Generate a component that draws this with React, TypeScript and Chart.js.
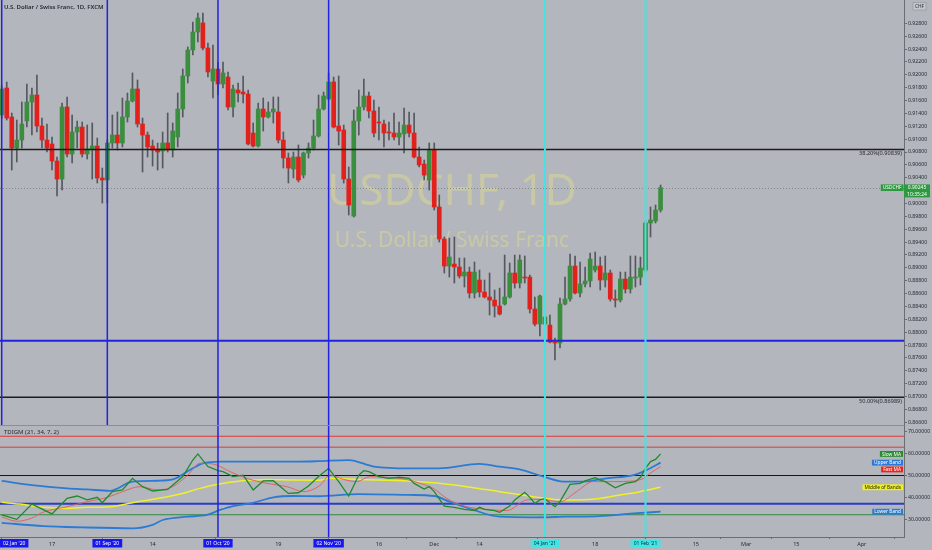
import { useEffect, useRef } from 'react';
import { Chart, registerables } from 'chart.js';

Chart.register(...registerables);

// ---------- price data (USDCHF daily, index 0 = first visible bar) ----------
const OPEN = [
  0.91375, 0.91794, 0.91344, 0.90862, 0.90986, 0.91282, 0.91577, 0.91686, 0.91204, 0.90986,
  0.90924, 0.90660, 0.90380, 0.91499, 0.90769, 0.91111, 0.91188, 0.90769, 0.90831, 0.90893,
  0.90396, 0.90365, 0.90940, 0.91064, 0.90940, 0.91344, 0.91592, 0.91779, 0.91235, 0.91064,
  0.90893, 0.90847, 0.90815, 0.90940, 0.90831, 0.91033, 0.91468, 0.91981, 0.92385, 0.92665,
  0.92805, 0.92416, 0.91903, 0.92090, 0.91857, 0.91965, 0.91499, 0.91763, 0.91732, 0.91701,
  0.91095, 0.90893, 0.91468, 0.91344, 0.91422, 0.91422, 0.90986, 0.90707, 0.90536, 0.90722,
  0.90442, 0.90784, 0.90862, 0.91049, 0.91468, 0.91624, 0.91888, 0.91204, 0.91142, 0.90380,
  0.89805, 0.91282, 0.91499, 0.91670, 0.91437, 0.91266, 0.91235, 0.91111, 0.91095, 0.91033,
  0.91080, 0.91219, 0.91095, 0.90722, 0.90613, 0.90365, 0.90831, 0.89945, 0.89448, 0.89028,
  0.89059, 0.89013, 0.88873, 0.88935, 0.88609, 0.88811, 0.88624, 0.88547, 0.88500, 0.88407,
  0.88438, 0.88547, 0.88920, 0.88764, 0.88857, 0.88857, 0.88360, 0.88127, 0.88127, 0.88111,
  0.87847, 0.87832, 0.88438, 0.88516, 0.89028, 0.88609, 0.88749, 0.88795, 0.88966, 0.89028,
  0.88811, 0.88920, 0.88516, 0.88500, 0.88826, 0.88671, 0.88842, 0.88857, 0.88966, 0.89697,
  0.89728, 0.89899,
];
const HIGH = [
  0.91826, 0.91888, 0.91406, 0.91297, 0.91577, 0.91857, 0.91794, 0.91996, 0.91328, 0.91235,
  0.91033, 0.90722, 0.91561, 0.91655, 0.91375, 0.91282, 0.91266, 0.91219, 0.91251, 0.91017,
  0.90551, 0.90986, 0.91375, 0.91422, 0.91639, 0.91717, 0.92028, 0.91919, 0.91328, 0.91111,
  0.90986, 0.90940, 0.91111, 0.91406, 0.91251, 0.91717, 0.92090, 0.92432, 0.92820, 0.92960,
  0.92960, 0.92494, 0.92463, 0.92199, 0.92199, 0.92043, 0.91841, 0.91872, 0.91981, 0.91763,
  0.91251, 0.91561, 0.91639, 0.91577, 0.91655, 0.91655, 0.91111, 0.90784, 0.90800, 0.90909,
  0.90800, 0.90940, 0.91297, 0.91686, 0.91732, 0.92028, 0.91965, 0.91981, 0.91219, 0.90567,
  0.91453, 0.91763, 0.91934, 0.91732, 0.91608, 0.91499, 0.91297, 0.91266, 0.91406, 0.91266,
  0.91484, 0.91422, 0.91406, 0.90878, 0.90676, 0.90940, 0.90940, 0.90132, 0.89479, 0.89463,
  0.89479, 0.89153, 0.89153, 0.89013, 0.89091, 0.88966, 0.88811, 0.88920, 0.88655, 0.88686,
  0.89199, 0.89075, 0.89199, 0.89199, 0.89184, 0.88888, 0.88547, 0.88578, 0.88267, 0.88267,
  0.87909, 0.88531, 0.88857, 0.89215, 0.89184, 0.89091, 0.89013, 0.89230, 0.89246, 0.89168,
  0.89184, 0.88966, 0.88655, 0.88935, 0.88935, 0.89184, 0.89184, 0.89168, 0.89728, 0.89945,
  0.89976, 0.90287,
];
const LOW = [
  0.91328, 0.91297, 0.90520, 0.90645, 0.90862, 0.91188, 0.91064, 0.91111, 0.90862, 0.90800,
  0.90520, 0.90116, 0.90209, 0.90722, 0.90629, 0.90862, 0.90722, 0.90691, 0.90380, 0.90318,
  0.90007, 0.90007, 0.90862, 0.90831, 0.90878, 0.91266, 0.91577, 0.91188, 0.90489, 0.90722,
  0.90582, 0.90520, 0.90551, 0.90800, 0.90722, 0.90878, 0.91344, 0.91872, 0.92307, 0.92509,
  0.92385, 0.91965, 0.91639, 0.91686, 0.91794, 0.91453, 0.91344, 0.91577, 0.91561, 0.90909,
  0.90878, 0.90878, 0.91126, 0.91328, 0.91251, 0.90940, 0.90551, 0.90318, 0.90396, 0.90334,
  0.90396, 0.90707, 0.90831, 0.91033, 0.91453, 0.91608, 0.91173, 0.90909, 0.90318, 0.89821,
  0.89790, 0.91064, 0.91453, 0.91328, 0.91033, 0.90986, 0.90878, 0.90986, 0.90986, 0.90909,
  0.90784, 0.91033, 0.90707, 0.90567, 0.90365, 0.90209, 0.89899, 0.89401, 0.88920, 0.88857,
  0.88764, 0.88842, 0.88702, 0.88531, 0.88531, 0.88547, 0.88531, 0.88267, 0.88236, 0.88267,
  0.88422, 0.88531, 0.88686, 0.88686, 0.88764, 0.88298, 0.88096, 0.87941, 0.88096, 0.87832,
  0.87568, 0.87754, 0.88422, 0.88484, 0.88593, 0.88547, 0.88702, 0.88702, 0.88935, 0.88655,
  0.88702, 0.88484, 0.88391, 0.88469, 0.88609, 0.88609, 0.88702, 0.88733, 0.88935, 0.89479,
  0.89697, 0.89868,
];
const CLOSE = [
  0.91779, 0.91328, 0.90862, 0.90986, 0.91235, 0.91577, 0.91686, 0.91204, 0.90986, 0.90862,
  0.90660, 0.90380, 0.91499, 0.90769, 0.91111, 0.91188, 0.90769, 0.90847, 0.90893, 0.90396,
  0.90365, 0.90940, 0.91064, 0.90940, 0.91344, 0.91592, 0.91779, 0.91235, 0.91064, 0.90878,
  0.90831, 0.90800, 0.90940, 0.90831, 0.91126, 0.91468, 0.91981, 0.92385, 0.92665, 0.92882,
  0.92416, 0.92043, 0.92090, 0.91857, 0.92028, 0.91499, 0.91779, 0.91717, 0.91701, 0.90924,
  0.90893, 0.91468, 0.91344, 0.91422, 0.91468, 0.90986, 0.90707, 0.90551, 0.90722, 0.90365,
  0.90784, 0.90862, 0.91049, 0.91468, 0.91670, 0.91888, 0.91188, 0.91126, 0.90380, 0.89976,
  0.91282, 0.91499, 0.91670, 0.91437, 0.91095, 0.91251, 0.91095, 0.91095, 0.91033, 0.91095,
  0.91219, 0.91095, 0.90722, 0.90598, 0.90442, 0.90831, 0.89945, 0.89448, 0.89028, 0.89168,
  0.89013, 0.88873, 0.88935, 0.88609, 0.88935, 0.88624, 0.88547, 0.88500, 0.88407, 0.88282,
  0.88547, 0.88920, 0.88764, 0.89122, 0.88842, 0.88360, 0.88127, 0.88562, 0.88236, 0.87847,
  0.87832, 0.88438, 0.88516, 0.89028, 0.88609, 0.88749, 0.88795, 0.89137, 0.89028, 0.88811,
  0.88920, 0.88516, 0.88500, 0.88826, 0.88671, 0.88857, 0.88857, 0.88997, 0.89697, 0.89743,
  0.89899, 0.90245,
];

// ---------- TDIGM indicator (bar index, value) ----------
const GREEN_X = [0, 3, 6, 10, 13, 15, 17, 19, 20, 22, 24, 26, 28, 30, 33, 36, 38, 39, 41, 43, 44, 46, 48, 50, 52, 54, 57, 59, 61, 63, 65, 67, 69, 71, 72, 73, 75, 77, 79, 81, 82, 84, 85, 86, 88, 90, 92, 94, 95, 96, 98, 99, 101, 102, 104, 105, 106, 107, 108, 109, 110, 111, 113, 115, 116, 118, 119, 120, 122, 124, 126, 127, 128, 129, 130, 131];
const GREEN_V = [31.9, 29.9, 36.9, 32.4, 39.5, 40.6, 38.8, 40.0, 37.5, 42.6, 43.4, 48.7, 44.9, 42.9, 43.6, 49.5, 57.1, 59.9, 54.1, 52.2, 51.8, 49.5, 50.2, 43.4, 47.5, 47.6, 41.8, 42.1, 45.2, 49.5, 53.3, 47.2, 40.6, 50.2, 52.2, 51.8, 49.5, 48.7, 49.2, 48.7, 46.4, 43.8, 44.9, 42.6, 36.0, 35.4, 34.5, 33.9, 35.4, 34.5, 33.9, 33.1, 36.0, 38.8, 42.3, 40.0, 37.2, 38.8, 39.4, 37.5, 35.7, 38.0, 45.9, 46.4, 47.5, 49.0, 47.9, 47.2, 44.4, 46.4, 47.2, 49.2, 53.3, 56.4, 57.4, 59.9];
const RED_X = [0, 3, 6, 8, 13, 17, 21, 24, 27.5, 31, 34, 37, 39.4, 42, 45.4, 48.7, 52.7, 56.7, 60, 63.3, 65.3, 68, 70.6, 73.2, 76.5, 80.5, 83.2, 85.8, 88.5, 92.4, 96.4, 100.4, 104.4, 107, 111, 114.3, 117.6, 121.6, 125.6, 127.6, 128.9, 131];
const RED_V = [31.0, 29.0, 30.5, 33.0, 35.7, 38.0, 40.0, 42.6, 44.9, 43.4, 44.9, 50.2, 55.6, 55.3, 51.8, 48.7, 46.4, 44.9, 42.6, 45.5, 50.2, 48.2, 47.2, 49.5, 49.2, 48.2, 46.4, 44.1, 39.5, 35.7, 34.5, 33.9, 38.8, 39.1, 38.0, 42.6, 47.2, 47.2, 47.5, 48.7, 51.0, 54.1];
const UPPER_X = [0, 6, 13, 17, 21.5, 26, 31, 34, 37.4, 40, 43.4, 50, 59, 63, 69, 74, 81, 87, 95, 99, 103, 107.7, 111.7, 115.6, 120.3, 125.6, 128.2, 131];
const UPPER_V = [47.5, 45.6, 44.1, 43.6, 43.0, 47.2, 47.6, 48.2, 52.5, 55.6, 56.4, 56.4, 56.4, 56.6, 57.1, 54.1, 53.3, 53.3, 55.3, 54.1, 52.8, 49.5, 47.2, 47.2, 48.7, 50.2, 52.5, 55.9];
const MID_X = [0, 3.6, 8.3, 13, 17, 21.5, 26, 31, 35.5, 39.4, 42.7, 47.4, 52.7, 58, 63, 65.3, 71, 81, 87, 92.4, 99, 105.7, 111.7, 118.9, 122.9, 126.9, 131];
const MID_V = [37.7, 36.9, 35.4, 34.9, 35.4, 35.7, 37.5, 39.5, 41.5, 44.1, 45.9, 47.5, 48.2, 47.9, 47.8, 48.7, 48.2, 47.5, 46.4, 44.9, 42.6, 40.3, 38.8, 39.5, 41.1, 42.6, 44.6];
const LOWER_X = [0, 8.3, 16.2, 26, 30, 32, 36.8, 40.8, 43.4, 46, 50, 54, 58, 63, 71, 81, 86, 89, 93.8, 99, 105.7, 112.3, 118.9, 125.6, 131];
const LOWER_V = [28.3, 26.8, 26.2, 25.8, 27.4, 29.6, 31.1, 31.9, 34.2, 36.0, 37.5, 40.0, 40.6, 40.5, 41.5, 41.1, 40.6, 38.0, 34.2, 31.1, 30.8, 31.1, 31.4, 32.6, 33.4];
const IND_LEVELS = [68, 63, 50, 37, 32];

// ---------- axes ----------
const X_MIN = -0.34;
const X_MAX = 179.4;
const PRICE_MIN = 0.86558;
const PRICE_MAX = 0.93162;
const IND_MIN = 21.8;
const IND_MAX = 73.17;
const PRICE_TICKS = [0.866, 0.868, 0.87, 0.872, 0.874, 0.876, 0.878, 0.88, 0.882, 0.884, 0.886, 0.888, 0.89, 0.892, 0.894, 0.896, 0.898, 0.9, 0.904, 0.906, 0.908, 0.91, 0.912, 0.914, 0.916, 0.918, 0.92, 0.922, 0.924, 0.926, 0.928];
const IND_TICKS = [30, 40, 50, 60, 70];
const X_TICK_POS = [10, 30, 55, 75, 86, 95, 118, 138, 148, 158, 171];
const X_TICK_LABELS = ['17', '14', '19', '16', 'Dec', '14', '18', '15', 'Mar', '15', 'Apr'];

// ---------- drawings ----------
const VLINE_POS = [0, 21, 43, 65, 108, 128];
const VLINE_LABELS = ["02 Jan '20", "01 Sep '20", "01 Oct '20", "02 Nov '20", "04 Jan '21", "01 Feb '21"];
const FIB_LEVELS = [0.90839, 0.86989];
const FIB_LABELS = ['38.20%(0.90839)', '50.00%(0.86989)'];
const SUPPORT_LEVEL = 0.87866;
const LAST_PRICE = 0.90245;
const LAST_PRICE_TEXT = '0.90245';
const LAST_TIME = '10:35:24';
const SYMBOL = 'USDCHF';
const TITLE = 'U.S. Dollar / Swiss Franc, 1D, FXCM';
const WATERMARK_TITLE = 'USDCHF, 1D';
const WATERMARK_SUB = 'U.S. Dollar / Swiss Franc';
const IND_TITLE = 'TDIGM (21, 34, 7, 2)';
const CURRENCY = 'CHF';
const SERIES_NAMES = ['Slow MA', 'Upper Band', 'Fast MA', 'Middle of Bands', 'Lower Band'];

const FONT = '"Noto Sans", "DejaVu Sans", sans-serif';
const BG = 'rgb(179,182,189)';
const UP = '#3a8e3e';
const DOWN = '#e3211c';
const WICK = '#55585f';
const AXIS = '#6a6d74';
const TXT = '#262a33';
const BLUE_V = '#2222e2';
const CYAN_V = '#44e4e4';
const BAND = '#2b7bd4';
const GREEN_L = '#1f8a2c';
const RED_L = '#e35a5a';
const YELLOW_L = '#f0f02a';

export default function App() {
  const ref = useRef<HTMLCanvasElement | null>(null);

  useEffect(() => {
    document.body.style.margin = '0';
    const canvas = ref.current;
    if (!canvas) return;

    const idx = OPEN.map((_, i) => i);
    const upFlags = idx.map((i) => CLOSE[i] >= OPEN[i]);

    const tag = (ctx: any, text: string, right: number, cy: number, h: number, bg: string, fg: string, size: number, minW = 0) => {
      ctx.font = `${size}px ${FONT}`;
      const w = Math.max(ctx.measureText(text).width + 4, minW);
      ctx.fillStyle = bg;
      ctx.fillRect(right - w, cy - h / 2, w, h);
      ctx.fillStyle = fg;
      ctx.textAlign = 'center';
      ctx.textBaseline = 'middle';
      ctx.fillText(text, right - w / 2, cy + 0.3);
      return w;
    };

    const hline = (ctx: any, y: number, x0: number, x1: number, color: string, width: number) => {
      ctx.strokeStyle = color;
      ctx.lineWidth = width;
      ctx.beginPath();
      ctx.moveTo(x0, y);
      ctx.lineTo(x1, y);
      ctx.stroke();
    };

    const overlay = {
      id: 'overlay',
      beforeDraw(chart: any) {
        const { ctx, width, height } = chart;
        ctx.save();
        ctx.fillStyle = BG;
        ctx.fillRect(0, 0, width, height);
        ctx.restore();
      },
      beforeDatasetsDraw(chart: any) {
        const { ctx, chartArea: a } = chart;
        const ys = chart.scales.y;
        const y2 = chart.scales.y2;
        ctx.save();
        // watermark
        const cx = (a.left + a.right) / 2;
        const cy = (ys.top + ys.bottom) / 2;
        ctx.fillStyle = 'rgba(240,232,120,0.36)';
        ctx.textAlign = 'center';
        ctx.textBaseline = 'middle';
        ctx.font = `44px ${FONT}`;
        ctx.fillText(WATERMARK_TITLE, cx, cy - 20);
        ctx.font = `21px ${FONT}`;
        ctx.fillText(WATERMARK_SUB, cx, cy + 29);
        // last price dotted line
        ctx.setLineDash([1, 2]);
        hline(ctx, Math.round(ys.getPixelForValue(LAST_PRICE)) + 0.5, a.left, a.right, 'rgba(110,112,118,0.7)', 1);
        ctx.setLineDash([]);
        // indicator levels
        const lc = ['#e03a3a', '#e03a3a', '#161616', '#2a3cc4', '#2f8a3e'];
        const lw = [1, 1, 1, 2, 1];
        IND_LEVELS.forEach((v, i) => {
          hline(ctx, y2.getPixelForValue(v), a.left, a.right, lc[i], lw[i]);
        });
        ctx.restore();
      },
      afterDatasetsDraw(chart: any) {
        const { ctx, chartArea: a } = chart;
        const ys = chart.scales.y;
        const xs = chart.scales.x;
        ctx.save();
        FIB_LEVELS.forEach((v) => hline(ctx, ys.getPixelForValue(v), a.left, a.right, '#1c1c1c', 1.3));
        hline(ctx, ys.getPixelForValue(SUPPORT_LEVEL), a.left, a.right, BLUE_V, 2);
        VLINE_POS.forEach((p, i) => {
          const px = xs.getPixelForValue(p);
          ctx.strokeStyle = i < 4 ? BLUE_V : CYAN_V;
          ctx.lineWidth = i < 4 ? 1.5 : 2;
          ctx.beginPath();
          ctx.moveTo(px, a.top);
          ctx.lineTo(px, i < 2 ? ys.bottom : a.bottom);
          ctx.stroke();
        });
        ctx.restore();
      },
      afterDraw(chart: any) {
        const { ctx, chartArea: a } = chart;
        const ys = chart.scales.y;
        const y2 = chart.scales.y2;
        const xs = chart.scales.x;
        ctx.save();
        // pane separator
        hline(ctx, Math.round(ys.bottom) + 0.5, 0, a.right, '#8b8e95', 1);
        // titles
        ctx.fillStyle = TXT;
        ctx.textAlign = 'left';
        ctx.textBaseline = 'middle';
        ctx.font = `600 6px ${FONT}`;
        ctx.fillText(TITLE, 4, 7.5);
        ctx.font = `6px ${FONT}`;
        ctx.fillText(IND_TITLE, 4, y2.top + 7.5);
        // fib labels
        ctx.font = `5.6px ${FONT}`;
        ctx.textAlign = 'right';
        ctx.textBaseline = 'top';
        FIB_LEVELS.forEach((v, i) => {
          ctx.fillStyle = TXT;
          ctx.fillText(FIB_LABELS[i], a.right - 2, ys.getPixelForValue(v) + 1.6);
        });
        // last price labels
        const pp = ys.getPixelForValue(LAST_PRICE);
        const green = '#2e9a40';
        ctx.fillStyle = green;
        ctx.fillRect(a.right, pp - 3.3, 26, 13);
        ctx.fillStyle = '#ffffff';
        ctx.font = `5px ${FONT}`;
        ctx.textAlign = 'center';
        ctx.textBaseline = 'middle';
        ctx.fillText(LAST_PRICE_TEXT, a.right + 13, pp + 0.1);
        ctx.fillText(LAST_TIME, a.right + 13, pp + 6.5);
        tag(ctx, SYMBOL, a.right - 0.5, pp, 6.6, green, '#ffffff', 4.8, 22);
        // indicator series labels
        const lasts = [GREEN_V, UPPER_V, RED_V, MID_V, LOWER_V].map((arr) => y2.getPixelForValue(arr[arr.length - 1]));
        const bgs = ['#2b8a33', BAND, '#e8261f', '#f3f312', BAND];
        const fgs = ['#ffffff', '#ffffff', '#ffffff', '#222222', '#ffffff'];
        const order = [0, 1, 2, 3, 4].sort((p, q) => lasts[p] - lasts[q]);
        let prev = -100;
        order.forEach((k) => {
          let yy = lasts[k];
          if (yy < prev + 6.8) yy = prev + 6.8;
          prev = yy;
          tag(ctx, SERIES_NAMES[k], a.right - 1, yy, 5.8, bgs[k], fgs[k], 4.8);
        });
        // vertical line date boxes
        VLINE_POS.forEach((p, i) => {
          ctx.font = `5px ${FONT}`;
          const w = ctx.measureText(VLINE_LABELS[i]).width + 6;
          let left = xs.getPixelForValue(p) - w / 2;
          if (left < 0) left = 0;
          ctx.fillStyle = i < 4 ? '#1717ee' : '#3fe6e6';
          ctx.fillRect(left, 539, w, 8.5);
          ctx.fillStyle = i < 4 ? '#ffffff' : '#1b2430';
          ctx.textAlign = 'center';
          ctx.textBaseline = 'middle';
          ctx.fillText(VLINE_LABELS[i], left + w / 2, 543.4);
        });
        // currency box
        ctx.fillStyle = '#c3c6cc';
        ctx.fillRect(913, 2.5, 13, 7.5);
        ctx.strokeStyle = '#8e9197';
        ctx.lineWidth = 0.6;
        ctx.strokeRect(913, 2.5, 13, 7.5);
        ctx.fillStyle = TXT;
        ctx.font = `4.8px ${FONT}`;
        ctx.fillText(CURRENCY, 919.5, 6.4);
        ctx.restore();
      },
    };

    const lineDs = (label: string, xsArr: number[], vs: number[], color: string, width: number, smooth: boolean, order: number) => ({
      type: 'line',
      label,
      yAxisID: 'y2',
      xAxisID: 'x',
      data: xsArr.map((x, i) => ({ x, y: vs[i] })),
      borderColor: color,
      borderWidth: width,
      pointRadius: 0,
      fill: false,
      cubicInterpolationMode: smooth ? 'monotone' : 'default',
      tension: 0,
      order,
    });

    const yAxisCommon = {
      type: 'linear',
      position: 'right',
      stack: 'panes',
      grid: { display: true, drawOnChartArea: false, drawTicks: true, tickLength: 3, color: AXIS },
      border: { display: true, color: AXIS, width: 1 },
      afterFit: (s: any) => {
        s.width = 28;
        s.paddingTop = 0;
        s.paddingBottom = 0;
      },
    };

    const chart = new Chart(canvas, {
      type: 'bar',
      data: {
        datasets: [
          lineDs('Slow MA', GREEN_X, GREEN_V, GREEN_L, 1.3, false, 0),
          lineDs('Fast MA', RED_X, RED_V, RED_L, 0.9, true, 1),
          lineDs('Middle of Bands', MID_X, MID_V, YELLOW_L, 1.5, true, 2),
          lineDs('Upper Band', UPPER_X, UPPER_V, BAND, 1.8, true, 3),
          lineDs('Lower Band', LOWER_X, LOWER_V, BAND, 1.8, true, 3),
          {
            type: 'bar',
            label: 'body',
            yAxisID: 'y',
            xAxisID: 'x',
            data: idx.map((i) => ({ x: i, y: [OPEN[i], CLOSE[i]] })),
            backgroundColor: upFlags.map((u) => (u ? UP : DOWN)),
            borderWidth: 0,
            barThickness: 4,
            grouped: false,
            minBarLength: 1,
            order: 5,
          },
          {
            type: 'bar',
            label: 'wick',
            yAxisID: 'y',
            xAxisID: 'x',
            data: idx.map((i) => ({ x: i, y: [LOW[i], HIGH[i]] })),
            backgroundColor: WICK,
            borderWidth: 0,
            barThickness: 1,
            grouped: false,
            order: 6,
          },
        ] as any,
      },
      options: {
        responsive: false,
        animation: false,
        devicePixelRatio: 1,
        events: [],
        layout: { padding: 0 },
        plugins: { legend: { display: false }, tooltip: { enabled: false } },
        scales: {
          x: {
            type: 'linear',
            min: X_MIN,
            max: X_MAX,
            offset: false,
            position: 'bottom',
            grid: { display: true, drawOnChartArea: false, drawTicks: true, tickLength: 2, color: AXIS },
            border: { display: true, color: AXIS, width: 1 },
            ticks: {
              autoSkip: false,
              maxRotation: 0,
              padding: 2,
              color: TXT,
              font: { size: 5.5, family: FONT },
              callback: (_v: any, i: number) => X_TICK_LABELS[i] ?? '',
            },
            afterBuildTicks: (s: any) => {
              s.ticks = X_TICK_POS.map((v) => ({ value: v }));
            },
            afterFit: (s: any) => {
              s.height = 13;
              s.paddingLeft = 0;
              s.paddingRight = 0;
            },
          },
          y: {
            ...yAxisCommon,
            stackWeight: 425,
            min: PRICE_MIN,
            max: PRICE_MAX,
            ticks: {
              autoSkip: false,
              padding: 1,
              color: TXT,
              font: { size: 5.2, family: FONT },
              callback: (v: any) => Number(v).toFixed(5),
            },
            afterBuildTicks: (s: any) => {
              s.ticks = PRICE_TICKS.map((v) => ({ value: v }));
            },
          },
          y2: {
            ...yAxisCommon,
            stackWeight: 112,
            min: IND_MIN,
            max: IND_MAX,
            ticks: {
              autoSkip: false,
              padding: 1,
              color: TXT,
              font: { size: 5.2, family: FONT },
              callback: (v: any) => Number(v).toFixed(5),
            },
            afterBuildTicks: (s: any) => {
              s.ticks = IND_TICKS.map((v) => ({ value: v }));
            },
          },
        } as any,
      },
      plugins: [overlay],
    });

    return () => chart.destroy();
  }, []);

  return (
    <div style={{ width: 932, height: 550 }}>
      <canvas ref={ref} width={932} height={550} style={{ display: 'block', width: 932, height: 550 }} />
    </div>
  );
}
